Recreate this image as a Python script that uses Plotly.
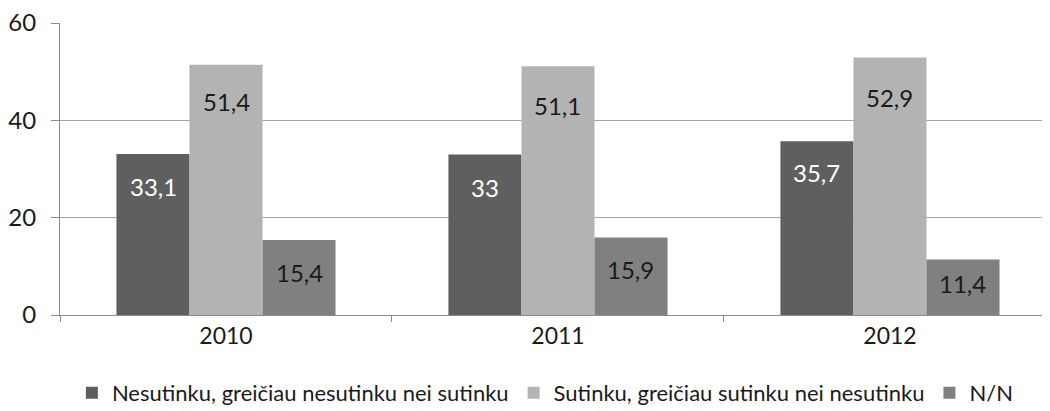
import plotly.graph_objects as go

years = ["2010", "2011", "2012"]
series_names = [
    "Nesutinku, greičiau nesutinku nei sutinku",
    "Sutinku, greičiau sutinku nei nesutinku",
    "N/N",
]
nesutinku = [33.1, 33.0, 35.7]
sutinku = [51.4, 51.1, 52.9]
nn = [15.4, 15.9, 11.4]
y_ticks = [0, 20, 40, 60]

series_values = [nesutinku, sutinku, nn]
colors = ["#5f5f5f", "#b3b3b3", "#808080"]
label_colors = ["#ffffff", "#1a1a1a", "#1a1a1a"]
label_shift = [[-33, -33, -31], [-37, -39, -40], [-32, -32, -24]]
x_shift = [-73, 0, 73]

FONT = "Lato"

fig = go.Figure()
for name, vals, col in zip(series_names, series_values, colors):
    fig.add_trace(go.Bar(
        x=years, y=vals, name=name,
        marker=dict(color=col, line=dict(width=0)),
    ))

for si, vals in enumerate(series_values):
    for ci, v in enumerate(vals):
        txt = ("%g" % v).replace(".", ",")
        fig.add_annotation(
            x=ci, y=v, xref="x", yref="y", text=txt, showarrow=False,
            xshift=x_shift[si], yshift=label_shift[si][ci],
            font=dict(family=FONT, size=24, color=label_colors[si]),
        )

fig.update_layout(
    width=1042, height=403,
    margin=dict(l=52, r=0, t=15, b=96, autoexpand=False),
    plot_bgcolor="white", paper_bgcolor="white",
    barmode="group", bargap=0.34, bargroupgap=0,
    font=dict(family=FONT, size=21, color="#1a1a1a"),
    showlegend=True,
    legend=dict(
        orientation="h", x=0.012, xanchor="left",
        yref="container", y=0.045, yanchor="middle",
        font=dict(family=FONT, size=22, color="#1a1a1a"),
        itemwidth=30, tracegroupgap=0,
    ),
)
fig.update_xaxes(
    type="category", range=[-0.5, 2.482], automargin=False,
    showline=True, linecolor="#8c8c8c", linewidth=1,
    ticks="outside", tickson="boundaries", ticklen=6, tickcolor="#8c8c8c",
    showgrid=False, tickfont=dict(family=FONT, size=23, color="#1a1a1a"),
)
fig.update_yaxes(
    range=[0, 60.001], tickvals=y_ticks, automargin=False,
    ticklabeloverflow="allow",
    showline=True, linecolor="#8c8c8c", linewidth=1,
    ticks="outside", ticklen=8, tickcolor="#8c8c8c",
    showgrid=True, gridcolor="#a6a6a6", gridwidth=1, zeroline=False,
    ticklabelstandoff=10,
    tickfont=dict(family=FONT, size=24, color="#1a1a1a"),
)

fig.write_html("out.html")
